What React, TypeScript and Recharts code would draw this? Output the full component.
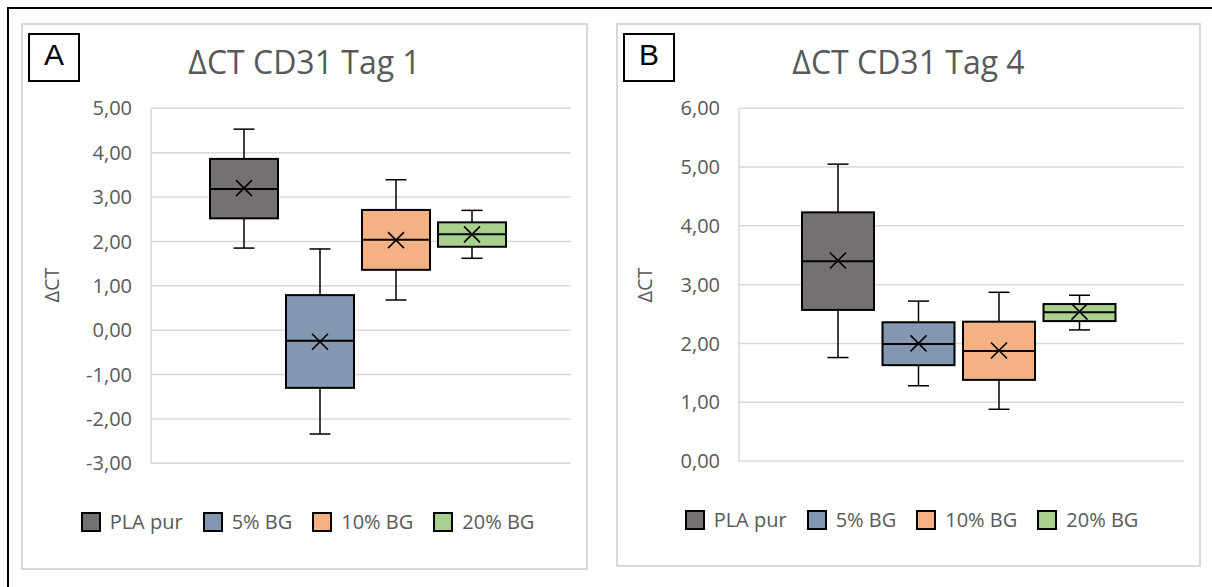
import React from "react";
import { BarChart, Bar, XAxis, YAxis, CartesianGrid } from "recharts";

const groups = ["PLA pur", "5% BG", "10% BG", "20% BG"];
const fills = ["#767171", "#8497B0", "#F4B183", "#A9D18E"];

// Tag 1 box statistics, one entry per group
const tag1Min = [1.85, -2.34, 0.68, 1.62];
const tag1Q1 = [2.52, -1.3, 1.36, 1.88];
const tag1Median = [3.18, -0.24, 2.04, 2.16];
const tag1Q3 = [3.86, 0.79, 2.71, 2.43];
const tag1Max = [4.53, 1.83, 3.39, 2.7];
const tag1Mean = [3.2, -0.26, 2.03, 2.16];
const tag1Ticks = [-3, -2, -1, 0, 1, 2, 3, 4, 5];

// Tag 4
const tag4Min = [1.76, 1.28, 0.88, 2.23];
const tag4Q1 = [2.57, 1.63, 1.38, 2.38];
const tag4Median = [3.4, 1.99, 1.87, 2.53];
const tag4Q3 = [4.23, 2.36, 2.37, 2.67];
const tag4Max = [5.05, 2.72, 2.87, 2.82];
const tag4Mean = [3.41, 2.0, 1.88, 2.54];
const tag4Ticks = [0, 1, 2, 3, 4, 5, 6];

type Stats = {
  min: number[];
  q1: number[];
  median: number[];
  q3: number[];
  max: number[];
  mean: number[];
};

const TEXT = "#595959";
const GRID = "#d9d9d9";

const fmt = (v: number) => v.toFixed(2).replace(".", ",");

const boxShape = (stats: Stats, i: number) => (props: any) => {
  const { x, y, width, height } = props;
  const top = Math.min(y, y + height);
  const bottom = Math.max(y, y + height);
  const hi = stats.max[i];
  const lo = stats.min[i];
  // bar spans [min, max]; map inner values on the same linear scale
  const py = (v: number) => top + ((hi - v) / (hi - lo)) * (bottom - top);
  const cx = x + width / 2;
  const cap = 10.5;
  const yq3 = py(stats.q3[i]);
  const yq1 = py(stats.q1[i]);
  const ymed = py(stats.median[i]);
  const ymean = py(stats.mean[i]);
  const m = 8;
  return (
    <g>
      <line x1={cx} x2={cx} y1={top} y2={yq3} stroke="#000" strokeWidth={1.5} />
      <line x1={cx - cap} x2={cx + cap} y1={top} y2={top} stroke="#000" strokeWidth={1.5} />
      <line x1={cx} x2={cx} y1={yq1} y2={bottom} stroke="#000" strokeWidth={1.5} />
      <line x1={cx - cap} x2={cx + cap} y1={bottom} y2={bottom} stroke="#000" strokeWidth={1.5} />
      <rect x={x} y={yq3} width={width} height={yq1 - yq3} fill={fills[i]} stroke="#000" strokeWidth={2} />
      <line x1={x} x2={x + width} y1={ymed} y2={ymed} stroke="#000" strokeWidth={2} />
      <line x1={cx - m} x2={cx + m} y1={ymean - m} y2={ymean + m} stroke="#000" strokeWidth={1.6} />
      <line x1={cx - m} x2={cx + m} y1={ymean + m} y2={ymean - m} stroke="#000" strokeWidth={1.6} />
    </g>
  );
};

type PanelProps = {
  letter: string;
  title: string;
  stats: Stats;
  ticks: number[];
  left: number;
  top: number;
  width: number;
  height: number;
  margin: { top: number; right: number; bottom: number; left: number };
  barSize: number;
  barGap: number;
  padRight: number;
  legendTop: number;
  labelX: number;
};

const Panel = (p: PanelProps) => {
  const row: Record<string, any> = { name: "1" };
  groups.forEach((_, i) => {
    row[`g${i}`] = [p.stats.min[i], p.stats.max[i]];
  });
  const data = [row];
  return (
    <div style={{ position: "absolute", left: p.left, top: p.top, width: p.width, height: p.height }}>
      <BarChart
        width={p.width}
        height={p.height}
        data={data}
        margin={p.margin}
        barSize={p.barSize}
        barGap={p.barGap}
      >
        <CartesianGrid vertical={false} stroke={GRID} strokeWidth={1.5} />
        <XAxis dataKey="name" hide padding={{ left: 0, right: p.padRight }} />
        <YAxis
          width={60}
          domain={[p.ticks[0], p.ticks[p.ticks.length - 1]]}
          ticks={p.ticks}
          tickFormatter={fmt}
          axisLine={{ stroke: GRID, strokeWidth: 1.5 }}
          tickLine={false}
          tickSize={0}
          tickMargin={19}
          tick={{ fontSize: 20, fill: TEXT, fontFamily: "'Open Sans', sans-serif" }}
        />
        {groups.map((g, i) => (
          <Bar
            key={g}
            name={g}
            dataKey={`g${i}`}
            fill={fills[i]}
            shape={boxShape(p.stats, i)}
            isAnimationActive={false}
          />
        ))}
      </BarChart>
      <div
        style={{
          position: "absolute",
          inset: 0,
          border: `2px solid ${GRID}`,
          boxSizing: "border-box",
          pointerEvents: "none",
        }}
      />
      <div
        style={{
          position: "absolute",
          left: 7,
          top: 10,
          width: 52,
          height: 49,
          border: "2px solid #000",
          boxSizing: "border-box",
          fontFamily: "'Liberation Sans', Arial, sans-serif",
          fontSize: 30,
          lineHeight: "30px",
          paddingTop: 5,
          textAlign: "center",
          color: "#000",
          background: "#fff",
        }}
      >
        {p.letter}
      </div>
      <div
        style={{
          position: "absolute",
          left: 0,
          top: 22.6,
          width: "100%",
          textAlign: "center",
          fontSize: 32,
          lineHeight: "32px",
          color: TEXT,
          whiteSpace: "nowrap",
        }}
      >
        {p.title}
      </div>
      <div
        style={{
          position: "absolute",
          left: p.labelX,
          top: 262,
          transform: "translate(-50%, -50%) rotate(-90deg)",
          fontSize: 20,
          lineHeight: "20px",
          color: TEXT,
          whiteSpace: "nowrap",
        }}
      >
        ΔCT
      </div>
      <div
        style={{
          position: "absolute",
          left: 0,
          top: p.legendTop,
          width: "100%",
          paddingLeft: 6,
          boxSizing: "border-box",
          display: "flex",
          justifyContent: "center",
          gap: 20,
        }}
      >
        {groups.map((g, i) => (
          <div key={g} style={{ display: "flex", alignItems: "center" }}>
            <span
              style={{
                width: 20,
                height: 20,
                border: "2px solid #000",
                boxSizing: "border-box",
                background: fills[i],
                marginRight: 9,
                display: "inline-block",
              }}
            />
            <span style={{ fontSize: 20, lineHeight: "20px", color: TEXT, whiteSpace: "nowrap" }}>{g}</span>
          </div>
        ))}
      </div>
    </div>
  );
};

const tag1Stats: Stats = {
  min: tag1Min,
  q1: tag1Q1,
  median: tag1Median,
  q3: tag1Q3,
  max: tag1Max,
  mean: tag1Mean,
};

const tag4Stats: Stats = {
  min: tag4Min,
  q1: tag4Q1,
  median: tag4Median,
  q3: tag4Q3,
  max: tag4Max,
  mean: tag4Mean,
};

export default function App() {
  return (
    <div
      style={{
        position: "absolute",
        left: 0,
        top: 0,
        width: 1212,
        height: 587,
        overflow: "hidden",
        background: "#fff",
        fontFamily: "'Open Sans', sans-serif",
      }}
    >
      <div style={{ position: "absolute", left: 7, top: 7, width: 2, height: 600, background: "#000" }} />
      <div style={{ position: "absolute", left: 7, top: 7, width: 1220, height: 2, background: "#000" }} />
      <Panel
        letter="A"
        title="ΔCT CD31 Tag 1"
        stats={tag1Stats}
        ticks={tag1Ticks}
        left={21}
        top={23}
        width={567}
        height={547}
        margin={{ top: 85.3, right: 17, bottom: 106.7, left: 70 }}
        barSize={68}
        barGap={8}
        padRight={7}
        legendTop={489}
        labelX={31}
      />
      <Panel
        letter="B"
        title="ΔCT CD31 Tag 4"
        stats={tag4Stats}
        ticks={tag4Ticks}
        left={616}
        top={23}
        width={585}
        height={544}
        margin={{ top: 85.3, right: 17.3, bottom: 106, left: 63 }}
        barSize={72}
        barGap={8.5}
        padRight={5}
        legendTop={487}
        labelX={29}
      />
    </div>
  );
}
